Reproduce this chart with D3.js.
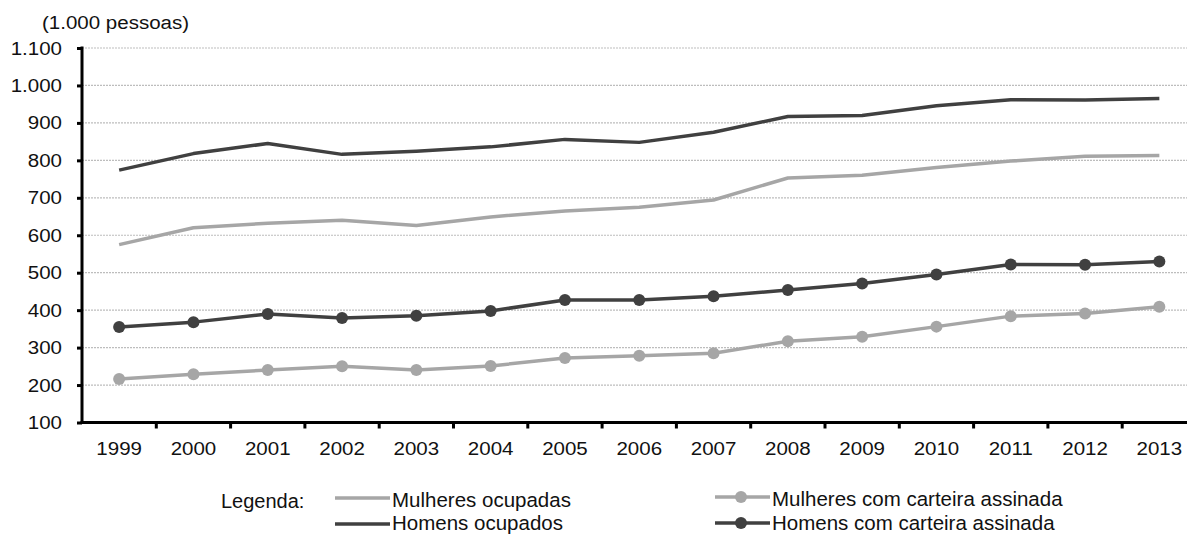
<!DOCTYPE html>
<html>
<head>
<meta charset="utf-8">
<script src="https://cdn.jsdelivr.net/npm/d3@7"></script>
<style>
  html, body { margin: 0; padding: 0; background: #fff; }
  svg { display: block; font-family: "Liberation Sans", Arial, sans-serif; }
</style>
</head>
<body>
<svg id="chart" width="1187" height="535"></svg>
<script>
// Anos (categorias do eixo X)
const years = ["1999","2000","2001","2002","2003","2004","2005","2006","2007","2008","2009","2010","2011","2012","2013"];
// Marcas do eixo Y (1.000 pessoas)
const yTicks = [100, 200, 300, 400, 500, 600, 700, 800, 900, 1000, 1100];

// Séries (1.000 pessoas)
const mulheresOcupadas = [575, 620, 632, 640, 626, 649, 665, 675, 694, 753, 760, 781, 798, 811, 813];
const homensOcupados   = [774, 818, 845, 816, 824, 836, 856, 848, 875, 917, 920, 946, 962, 961, 965];
const mulheresCarteira = [216, 229, 240, 250, 240, 251, 272, 278, 285, 317, 329, 356, 384, 391, 409];
const homensCarteira   = [355, 368, 390, 379, 385, 398, 427, 427, 437, 454, 471, 495, 522, 521, 530];

const seriesNames = ["Mulheres ocupadas", "Homens ocupados", "Mulheres com carteira assinada", "Homens com carteira assinada"];

const DARK = "#404040", LIGHT = "#a6a6a6";
const series = [
  { name: seriesNames[0], values: mulheresOcupadas, color: LIGHT, marker: false },
  { name: seriesNames[1], values: homensOcupados,   color: DARK,  marker: false },
  { name: seriesNames[2], values: mulheresCarteira, color: LIGHT, marker: true },
  { name: seriesNames[3], values: homensCarteira,   color: DARK,  marker: true }
];

const svg = d3.select("#chart");
const W = 1187;
const plotLeft = 82, bandW = 74.3, plotTop = 48, plotBottom = 422.5;
const TXT_SX = 1.08; // ligeira expansão horizontal do texto

const x = d3.scaleBand().domain(years).range([plotLeft, plotLeft + years.length * bandW]).padding(0);
const y = d3.scaleLinear().domain([100, 1100]).range([plotBottom, plotTop]);
const cx = d => x(d) + x.bandwidth() / 2;

const ptBR = d3.formatLocale({ decimal: ",", thousands: ".", grouping: [3], currency: ["R$", ""] });
const fmt = ptBR.format(",d");

// Linhas de grade horizontais
svg.append("g")
  .selectAll("line")
  .data(yTicks.filter(t => t > 100))
  .join("line")
  .attr("x1", plotLeft).attr("x2", W)
  .attr("y1", d => y(d)).attr("y2", d => y(d))
  .attr("stroke", "#bdbdbd")
  .attr("stroke-width", 1.2)
  .attr("stroke-dasharray", "2,1");

// Eixo Y
const yAxis = svg.append("g")
  .attr("transform", `translate(${plotLeft},0)`)
  .call(d3.axisLeft(y).tickValues(yTicks).tickFormat(fmt).tickSize(5).tickPadding(15));
yAxis.select(".domain").remove();
yAxis.selectAll(".tick line").attr("stroke", "#000").attr("stroke-width", 3);
yAxis.selectAll(".tick text")
  .attr("font-size", 19)
  .attr("fill", "#111")
  .attr("font-family", "Liberation Sans, Arial, sans-serif")
  .attr("x", -20 / TXT_SX)
  .attr("transform", `scale(${TXT_SX},1)`);
svg.append("line")
  .attr("x1", plotLeft).attr("x2", plotLeft)
  .attr("y1", plotTop - 1.5).attr("y2", plotBottom + 1.5)
  .attr("stroke", "#000").attr("stroke-width", 3);

// Eixo X (rótulos centrados nas categorias)
const xAxis = svg.append("g")
  .attr("transform", `translate(0,${plotBottom})`)
  .call(d3.axisBottom(x).tickSize(0).tickPadding(0));
xAxis.select(".domain").remove();
xAxis.selectAll(".tick text")
  .attr("font-size", 19)
  .attr("fill", "#111")
  .attr("font-family", "Liberation Sans, Arial, sans-serif")
  .attr("dy", null)
  .attr("y", 32.5)
  .attr("transform", `scale(${TXT_SX},1)`)
  .attr("x", 0);

// Marcas nos limites das categorias
const bounds = years.map(d => x(d)).concat([x(years[years.length - 1]) + x.bandwidth()]);
svg.append("g")
  .selectAll("line")
  .data(bounds.slice(1))
  .join("line")
  .attr("x1", d => d).attr("x2", d => d)
  .attr("y1", plotBottom).attr("y2", plotBottom + 6)
  .attr("stroke", "#000").attr("stroke-width", 3);
svg.append("line")
  .attr("x1", plotLeft - 1.5).attr("x2", W)
  .attr("y1", plotBottom).attr("y2", plotBottom)
  .attr("stroke", "#000").attr("stroke-width", 3);

// Título do eixo
svg.append("text")
  .attr("transform", `translate(42,29) scale(${TXT_SX},1)`)
  .attr("font-size", 19)
  .attr("fill", "#111")
  .text("(1.000 pessoas)");

// Séries
const line = d3.line().x((v, i) => cx(years[i])).y(v => y(v));
series.forEach(s => {
  svg.append("path")
    .datum(s.values)
    .attr("d", line)
    .attr("fill", "none")
    .attr("stroke", s.color)
    .attr("stroke-width", 3.5)
    .attr("stroke-linejoin", "round");
  if (s.marker) {
    svg.append("g")
      .selectAll("circle")
      .data(s.values)
      .join("circle")
      .attr("cx", (v, i) => cx(years[i]))
      .attr("cy", v => y(v))
      .attr("r", 6)
      .attr("fill", s.color);
  }
});

// Legenda
const legend = svg.append("g");
legend.append("text")
  .attr("x", 221).attr("y", 508)
  .attr("font-size", 20).attr("fill", "#111")
  .text("Legenda:");
const legendItems = [
  { s: series[0], x: 335, y: 498, dy: 8.5 },
  { s: series[1], x: 335, y: 524, dy: 5.5 },
  { s: series[2], x: 715, y: 497, dy: 9 },
  { s: series[3], x: 715, y: 523, dy: 6.5 }
];
legendItems.forEach(it => {
  legend.append("line")
    .attr("x1", it.x).attr("x2", it.x + 55)
    .attr("y1", it.y).attr("y2", it.y)
    .attr("stroke", it.s.color).attr("stroke-width", 3.5);
  if (it.s.marker) {
    legend.append("circle")
      .attr("cx", it.x + 26).attr("cy", it.y).attr("r", 6)
      .attr("fill", it.s.color);
  }
  legend.append("text")
    .attr("x", it.x + 57).attr("y", it.y + it.dy)
    .attr("font-size", 20.5).attr("fill", "#111")
    .text(it.s.name);
});
</script>
</body>
</html>
